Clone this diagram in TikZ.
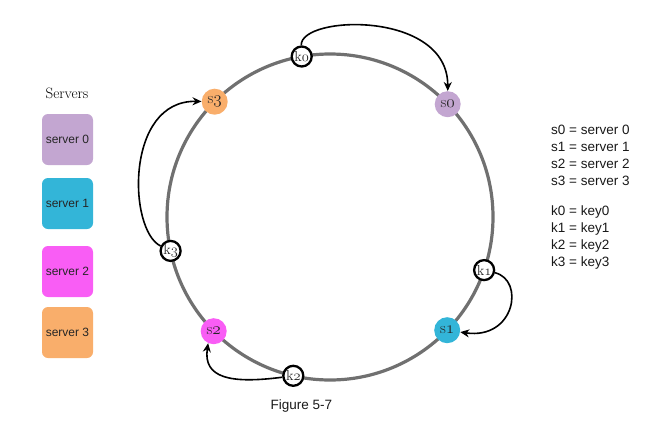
\documentclass[tikz,border=0pt]{standalone}
\usepackage{fontspec}
\newfontfamily\arial{Liberation Sans}
\usetikzlibrary{arrows.meta}
\newcommand{\osn}[1]{{\usefont{OML}{cmm}{m}{it}#1}}
\definecolor{ringgray}{HTML}{707070}
\definecolor{sv0}{HTML}{C3A6D1}
\definecolor{sv1}{HTML}{33B5D8}
\definecolor{sv2}{HTML}{F95DF5}
\definecolor{sv3}{HTML}{F9AE6B}
\tikzset{
  srv/.style={circle, minimum size=26pt, inner sep=0pt, font=\fontsize{16}{16}\selectfont, text=black!85},
  key/.style={circle, draw=black, line width=2.3pt, fill=white, minimum size=20pt, inner sep=0pt, font=\fontsize{14.5}{14.5}\selectfont, text=black!85},
  legbox/.style={rounded corners=6pt, minimum width=51pt, minimum height=51pt, inner sep=0pt, font=\arial\fontsize{12}{12}\selectfont, text=black!85},
  conn/.style={line width=1.6pt, -{Stealth[length=9pt,width=8pt]}},
  txt/.style={font=\arial\fontsize{13.5}{13.5}\selectfont, anchor=west, inner sep=0pt, text=black!90}
}
\begin{document}
\begin{tikzpicture}[x=1pt,y=-1pt]
\useasboundingbox (0,0) rectangle (663,431);
\coordinate (c) at (330,217);
\draw[ringgray, line width=3.2pt] (c) circle (163);
% servers on ring
\node[srv, fill=sv0] (s0) at (447.7,104.2) {s\osn{0}};
\node[srv, fill=sv1] (s1) at (447.2,330.2) {s\osn{1}};
\node[srv, fill=sv2] (s2) at (213.7,331.2) {s\osn{2}};
\node[srv, fill=sv3] (s3) at (214.7,101.7) {s\osn{3}};
% keys on ring
\node[key] (k0) at (301.7,56.5) {k\osn{0}};
\node[key] (k1) at (484.1,270.1) {k\osn{1}};
\node[key] (k2) at (293.3,375.8) {k\osn{2}};
\node[key] (k3) at (170.6,250.9) {k\osn{3}};
% connectors
\draw[conn] (k0) .. controls (300,15) and (448,10) .. (s0);
\draw[conn] (k1) .. controls (525,280) and (515,340) .. (s1);
\draw[conn] (k2) .. controls (230,384) and (203,378) .. (s2.-115);
\draw[conn] (k3) .. controls (128,230) and (125,100) .. (s3);
% legend
\node[font=\fontsize{15}{15}\selectfont] (lt) at (67,93) {Servers};
\node[legbox, fill=sv0] (b0) at (67.5,139.5) {server 0};
\node[legbox, fill=sv1] (b1) at (67.5,203.5) {server 1};
\node[legbox, fill=sv2] (b2) at (67.5,271.5) {server 2};
\node[legbox, fill=sv3] (b3) at (67.5,332.5) {server 3};
% right text
\node[txt] (t0) at (551,130) {s0 = server 0};
\node[txt] (t1) at (551,147) {s1 = server 1};
\node[txt] (t2) at (551,164) {s2 = server 2};
\node[txt] (t3) at (551,181) {s3 = server 3};
\node[txt] (u0) at (551,212) {k0 = key0};
\node[txt] (u1) at (551,229) {k1 = key1};
\node[txt] (u2) at (551,246) {k2 = key2};
\node[txt] (u3) at (551,263) {k3 = key3};
% caption
\node[font=\arial\fontsize{13.5}{13.5}\selectfont, text=black!90] (cap) at (301.5,406) {Figure 5-7};
\end{tikzpicture}
\end{document}
